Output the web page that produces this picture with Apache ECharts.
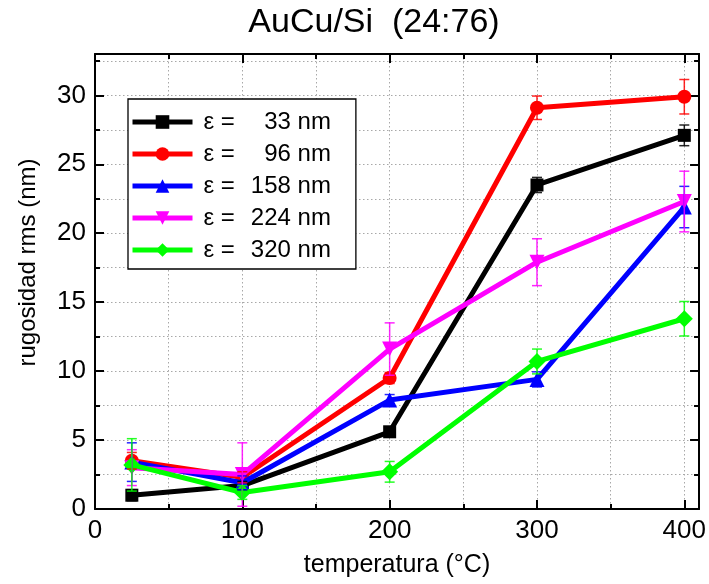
<!DOCTYPE html>
<html>
<head>
<meta charset="utf-8">
<script src="https://cdn.jsdelivr.net/npm/echarts@6/dist/echarts.min.js"></script>
<style>
  html, body { margin: 0; padding: 0; background: #fff; }
  #chart { width: 709px; height: 584px; }
</style>
</head>
<body>
<div id="chart"></div>
<script>
// Annealing temperature (°C)
const temperatures = [25, 100, 200, 300, 400];

// Film thickness labels
const thicknessLabels = ['33 nm', '96 nm', '158 nm', '224 nm', '320 nm'];

// RMS roughness (nm) for each thickness
const rms33 = [1.0, 1.7, 5.6, 23.5, 27.1];
const rms96 = [3.5, 2.3, 9.5, 29.1, 29.9];
const rms158 = [3.4, 1.9, 7.9, 9.4, 21.9];
const rms224 = [3.0, 2.5, 11.6, 17.9, 22.3];
const rms320 = [3.2, 1.2, 2.7, 10.7, 13.8];

// Error bar half-widths (nm)
const err33 = [0.4, 0.3, 0.3, 0.55, 0.75];
const err96 = [0.6, 0.4, 0.4, 0.85, 1.25];
const err158 = [1.4, 0.5, 0.4, 0.55, 1.5];
const err224 = [1.3, 2.3, 1.9, 1.7, 2.2];
const err320 = [1.9, 0.5, 0.75, 0.9, 1.25];

// Axis tick values
const xTicks = [0, 100, 200, 300, 400];
const yTicks = [0, 5, 10, 15, 20, 25, 30];

const seriesDefs = [
  { name: thicknessLabels[0], values: rms33, errors: err33, color: '#000000', symbol: 'rect', size: 13, rotate: 0 },
  { name: thicknessLabels[1], values: rms96, errors: err96, color: '#ff0000', symbol: 'circle', size: 14, rotate: 0 },
  { name: thicknessLabels[2], values: rms158, errors: err158, color: '#0000ff', symbol: 'triangle', size: 15, rotate: 0 },
  { name: thicknessLabels[3], values: rms224, errors: err224, color: '#ff00ff', symbol: 'triangle', size: 15, rotate: 180 },
  { name: thicknessLabels[4], values: rms320, errors: err320, color: '#00ff00', symbol: 'diamond', size: 17, rotate: 0 }
];

const plainFont = "'Liberation Sans', Arial, sans-serif";
const gridLine = { show: true, lineStyle: { color: '#a8a8a8', width: 1, type: [1.5, 2.5] } };

function xAxisDef(position, interval, major) {
  return {
    type: 'value', position: position, min: 0, max: 410, interval: interval,
    axisLine: { show: major, onZero: false, lineStyle: { color: '#000', width: 2 } },
    axisTick: { show: true, inside: true, length: major ? 9 : 5, lineStyle: { color: '#000', width: 2 } },
    axisLabel: (major && position === 'bottom') ? {
      show: true, margin: 9, color: '#000', fontSize: 26, fontFamily: plainFont,
      formatter: v => (xTicks.indexOf(v) >= 0 ? String(v) : '')
    } : { show: false },
    splitLine: (!major && position === 'bottom') ? gridLine : { show: false }
  };
}

function yAxisDef(position, interval, major) {
  return {
    type: 'value', position: position, min: 0, max: 33, interval: interval,
    axisLine: { show: major, onZero: false, lineStyle: { color: '#000', width: 2 } },
    axisTick: { show: true, inside: true, length: major ? 9 : 5, lineStyle: { color: '#000', width: 2 } },
    axisLabel: (major && position === 'left') ? {
      show: true, margin: 9, color: '#000', fontSize: 26, fontFamily: plainFont,
      formatter: v => (yTicks.indexOf(v) >= 0 ? String(v) : '')
    } : { show: false },
    splitLine: (!major && position === 'left') ? gridLine : { show: false }
  };
}

const xAxes = [
  xAxisDef('bottom', 100, true),
  xAxisDef('bottom', 50, false),
  xAxisDef('top', 100, true),
  xAxisDef('top', 50, false)
];
xAxes[0].name = 'temperatura (°C)';
xAxes[0].nameLocation = 'middle';
xAxes[0].nameGap = 44;
xAxes[0].nameTextStyle = { color: '#000', fontSize: 25, fontFamily: plainFont };

const yAxes = [
  yAxisDef('left', 5, true),
  yAxisDef('left', 2.5, false),
  yAxisDef('right', 5, true),
  yAxisDef('right', 2.5, false)
];
yAxes[0].name = 'rugosidad rms (nm)';
yAxes[0].nameLocation = 'middle';
yAxes[0].nameGap = 55;
yAxes[0].nameTextStyle = { color: '#000', fontSize: 24, fontFamily: plainFont, padding: [0, 0, 0, 38] };

const series = [];
seriesDefs.forEach((d, i) => {
  series.push({
    name: d.name,
    type: 'line',
    xAxisIndex: 0, yAxisIndex: 0,
    data: temperatures.map((t, k) => [t, d.values[k]]),
    symbol: d.symbol, symbolSize: d.size, symbolRotate: d.rotate,
    showAllSymbol: true,
    lineStyle: { color: d.color, width: 5 },
    itemStyle: { color: d.color, borderWidth: 0 },
    z: 2 + i * 0.01,
    animation: false
  });
});
seriesDefs.forEach((d, i) => {
  series.push({
    name: 'err-' + d.name,
    type: 'custom',
    xAxisIndex: 0, yAxisIndex: 0,
    data: temperatures.map((t, k) => [t, d.values[k], d.errors[k]]),
    encode: { x: 0, y: 1 },
    z: 3,
    silent: true,
    animation: false,
    renderItem: function (params, api) {
      const x = api.value(0), y = api.value(1), e = api.value(2);
      const top = api.coord([x, y + e]);
      const bot = api.coord([x, y - e]);
      const cap = 5;
      const style = { stroke: d.color, lineWidth: 1.5, opacity: 0.85 };
      return {
        type: 'group',
        children: [
          { type: 'line', shape: { x1: top[0], y1: top[1], x2: bot[0], y2: bot[1] }, style: style },
          { type: 'line', shape: { x1: top[0] - cap, y1: top[1], x2: top[0] + cap, y2: top[1] }, style: style },
          { type: 'line', shape: { x1: bot[0] - cap, y1: bot[1], x2: bot[0] + cap, y2: bot[1] }, style: style }
        ]
      };
    }
  });
});

const chart = echarts.init(document.getElementById('chart'), null, { renderer: 'canvas' });
chart.setOption({
  animation: false,
  backgroundColor: '#fff',
  graphic: [{
    type: 'text',
    x: 374, y: 23,
    style: {
      text: 'AuCu/Si  (24:76)',
      fill: '#000',
      font: '34px ' + plainFont,
      textAlign: 'center',
      textVerticalAlign: 'middle'
    }
  }],
  grid: { left: 95, top: 54, right: 8, bottom: 75, containLabel: false },
  xAxis: xAxes,
  yAxis: yAxes,
  legend: {
    data: thicknessLabels,
    orient: 'vertical',
    left: 128, top: 99,
    padding: [11, 25, 7, 2],
    itemWidth: 60, itemHeight: 17, itemGap: 8,
    backgroundColor: '#fff',
    borderColor: '#000', borderWidth: 1.3,
    selectedMode: false,
    lineStyle: { width: 5 },
    formatter: name => '{e|ε =}{n|' + name + '}',
    textStyle: {
      color: '#000', fontSize: 24, fontFamily: plainFont,
      rich: {
        e: { fontSize: 24, fontFamily: plainFont, padding: [0, 0, 0, 6] },
        n: { fontSize: 24, fontFamily: plainFont, width: 96, align: 'right' }
      }
    }
  },
  series: series
});
</script>
</body>
</html>
